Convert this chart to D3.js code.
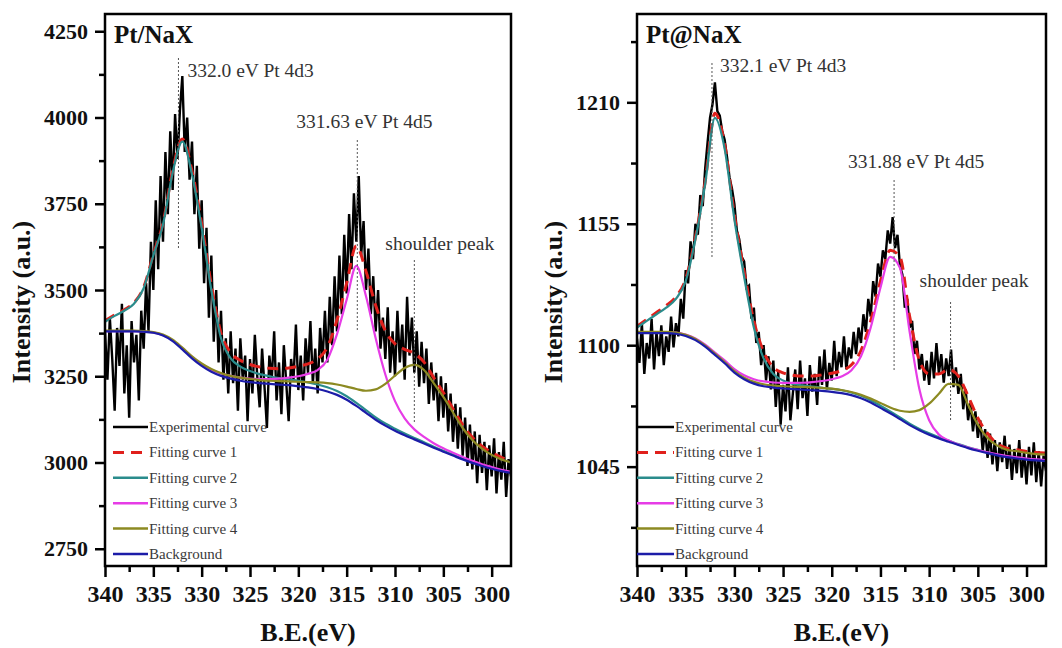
<!DOCTYPE html>
<html>
<head>
<meta charset="UTF-8">
<title>Pt 4d XPS fits</title>
<style>
    body { margin: 0; padding: 0; background: #fff; }
    svg { display: block; }
    text { font-family: "Liberation Serif", "Times New Roman", serif; }
</style>
</head>
<body>
<svg width="1062" height="648"></svg>
<script src="https://d3js.org/d3.v7.min.js"></script>
<script>
// binding energy grid of the fitted curves (1 eV) and of the measured spectra (0.25 eV)
var fitEV = d3.range(340, 297.5, -1);
var expEV = d3.range(340, 297.9, -0.25);

var xTicks = [340, 335, 330, 325, 320, 315, 310, 305, 300];
var xMinor = [337.5, 332.5, 327.5, 322.5, 317.5, 312.5, 307.5, 302.5];

var seriesNames = ["Experimental curve", "Fitting curve 1", "Fitting curve 2",
                   "Fitting curve 3", "Fitting curve 4", "Background"];

// ---- Pt/NaX ----
var naxTicks = [2750, 3000, 3250, 3500, 3750, 4000, 4250];
var naxMinor = [2875, 3125, 3375, 3625, 3875, 4125];
var naxPeaks = [["332.0 eV Pt 4d3", 332.4], ["331.63 eV Pt 4d5", 313.9], ["shoulder peak", 308.0]];

var naxBg = [3380, 3380, 3380, 3380, 3379, 3376, 3368, 3352, 3328, 3302, 3280, 3263, 3251, 3243,
    3237, 3233, 3230, 3228, 3226, 3224, 3221, 3218, 3213, 3206, 3196, 3182, 3164, 3144, 3124,
    3107, 3092, 3079, 3067, 3055, 3043, 3031, 3020, 3009, 2999, 2990, 2982, 2975, 2970];
var naxFit2 = [3408, 3425, 3440, 3460, 3505, 3600, 3690, 3840, 3930, 3835, 3680, 3500, 3360, 3302,
    3278, 3265, 3256, 3250, 3245, 3241, 3237, 3232, 3226, 3218, 3207, 3192, 3173, 3152, 3131,
    3113, 3098, 3084, 3071, 3059, 3046, 3034, 3023, 3011, 3001, 2992, 2984, 2977, 2971];
var naxFit3 = [3381, 3381, 3381, 3381, 3380, 3377, 3369, 3354, 3331, 3306, 3285, 3269, 3258, 3251,
    3246, 3243, 3242, 3242, 3243, 3246, 3250, 3257, 3268, 3298, 3372, 3472, 3570, 3482, 3360,
    3255, 3178, 3128, 3096, 3074, 3056, 3041, 3028, 3016, 3005, 2995, 2987, 2979, 2973];
var naxFit4 = [3382, 3382, 3382, 3382, 3381, 3378, 3371, 3356, 3333, 3308, 3287, 3271, 3259, 3251,
    3246, 3242, 3239, 3237, 3236, 3235, 3234, 3233, 3232, 3230, 3226, 3220, 3213, 3208, 3212,
    3228, 3252, 3274, 3283, 3268, 3230, 3190, 3145, 3100, 3065, 3040, 3022, 3009, 3000];
var naxFit1 = [3411, 3428, 3443, 3463, 3508, 3603, 3694, 3846, 3938, 3845, 3692, 3514, 3375, 3318,
    3296, 3284, 3277, 3273, 3272, 3274, 3279, 3286, 3300, 3334, 3413, 3520, 3628, 3554, 3455,
    3382, 3344, 3328, 3316, 3291, 3246, 3203, 3156, 3109, 3073, 3047, 3029, 3015, 3004];
var naxExp = [
    3380, 3240, 3420, 3300,  3150, 3390, 3280, 3460,  3200, 3340, 3130, 3410,  3290, 3370, 3180, 3440,
    3330, 3520, 3380, 3640,  3500, 3760, 3560, 3830,  3640, 3900, 3720, 3960,  3790, 4010, 3880, 4020,
    4120, 3900, 4000, 3820,  3930, 3720, 3860, 3620,  3760, 3520, 3680, 3420,  3600, 3350, 3500, 3290,
    3440, 3240, 3360, 3200,  3380, 3230, 3330, 3150,  3360, 3240, 3310, 3120,  3300, 3200, 3370, 3250,
    3160, 3330, 3220, 3100,  3310, 3240, 3380, 3180,  3290, 3140, 3340, 3230,  3120, 3300, 3240, 3400,
    3210, 3310, 3180, 3360,  3260, 3410, 3230, 3330,  3200, 3390, 3290, 3440,  3290, 3480, 3340, 3540,
    3380, 3600, 3430, 3660,  3490, 3720, 3560, 3780,  3640, 3830, 3600, 3700,  3500, 3620, 3430, 3540,
    3380, 3500, 3330, 3420,  3300, 3450, 3260, 3380,  3250, 3440, 3290, 3400,  3240, 3480, 3310, 3420,
    3260, 3380, 3220, 3350,  3230, 3330, 3170, 3290,  3180, 3260, 3120, 3250,  3130, 3230, 3090, 3200,
    3060, 3170, 3040, 3160,  3020, 3130, 2990, 3110,  2980, 3090, 2940, 3080,  2970, 3060, 2920, 3050,
    2960, 3070, 2910, 3030,  2950, 3060, 2900, 3010,  2960];

// ---- Pt@NaX ----
var atTicks = [1045, 1100, 1155, 1210];
var atMinor = [1017.5, 1072.5, 1127.5, 1182.5, 1237.5];
var atPeaks = [["332.1 eV Pt 4d3", 332.3], ["331.88 eV Pt 4d5", 313.6], ["shoulder peak", 307.8]];

var atBg = [1105.5, 1105.5, 1105.5, 1105.5, 1105.2, 1104.2, 1102.3, 1099.3, 1095.6, 1091.8, 1087.6,
    1084.6, 1082.6, 1081.4, 1080.8, 1080.4, 1080.1, 1079.9, 1079.6, 1079.3, 1078.9, 1078.3,
    1077.4, 1076.0, 1074.0, 1071.6, 1069.2, 1066.5, 1063.8, 1061.5, 1059.5, 1057.8, 1056.3,
    1054.8, 1053.4, 1052.2, 1051.1, 1050.1, 1049.3, 1048.7, 1048.2, 1047.8, 1047.5];
var atFit2 = [1108, 1111, 1114, 1117, 1121, 1129, 1148, 1173, 1203, 1189, 1157, 1131, 1108, 1094,
    1087, 1084, 1082.5, 1081.8, 1081.2, 1080.7, 1080.2, 1079.6, 1078.6, 1077.1, 1075.1, 1072.6,
    1070.0, 1067.3, 1064.5, 1062.1, 1060.1, 1058.3, 1056.8, 1055.2, 1053.8, 1052.6, 1051.4,
    1050.4, 1049.6, 1048.9, 1048.4, 1048.0, 1047.7];
var atFit3 = [1105.6, 1105.7, 1105.8, 1105.9, 1105.7, 1104.8, 1103.0, 1100.2, 1096.7, 1093.1, 1089.2,
    1086.4, 1084.6, 1083.6, 1083.1, 1082.9, 1082.9, 1083.0, 1083.3, 1083.8, 1084.6, 1085.8,
    1088.5, 1095.0, 1108.0, 1126.0, 1140.0, 1135.0, 1106.0, 1080.0, 1066.0, 1059.5, 1056.8,
    1055.0, 1053.6, 1052.5, 1051.5, 1050.6, 1049.8, 1049.2, 1048.7, 1048.3, 1048.0];
var atFit4 = [1106.0, 1106.0, 1106.0, 1106.0, 1105.7, 1104.7, 1102.8, 1099.8, 1096.2, 1092.4, 1088.3,
    1085.3, 1083.4, 1082.3, 1081.7, 1081.4, 1081.2, 1081.1, 1080.9, 1080.7, 1080.3, 1079.7,
    1078.8, 1077.5, 1075.8, 1073.8, 1071.8, 1070.3, 1069.8, 1070.6, 1073.5, 1078.0, 1082.5,
    1082.0, 1073.0, 1064.0, 1058.0, 1054.5, 1052.6, 1052.0, 1051.2, 1050.7, 1050.4];
var atFit1 = [1108.6, 1111.7, 1114.8, 1117.9, 1122, 1130, 1149, 1174, 1205, 1191, 1159, 1133.5, 1111,
    1097, 1090, 1087.5, 1086.4, 1086, 1086, 1086.6, 1087.3, 1088.5, 1091, 1097.6, 1111, 1129,
    1143, 1140, 1113, 1093, 1087, 1087, 1089, 1086, 1077, 1067, 1060, 1055.3, 1053.4, 1052.7,
    1051.9, 1051.4, 1051.1];
var atExp = [1103, 1092, 1110, 1087, 1101, 1094, 1112, 1089, 1106, 1095, 1109, 1091, 1104, 1097,
    1113, 1099, 1110, 1104, 1121, 1112, 1134, 1128, 1147, 1139, 1155, 1150, 1168, 1163, 1180,
    1192, 1203, 1209, 1219, 1206, 1204, 1197, 1193, 1185, 1176, 1171, 1164, 1152, 1148, 1140,
    1138, 1126, 1127, 1112, 1117, 1101, 1106, 1091, 1100, 1084, 1095, 1080, 1093, 1072, 1088,
    1064, 1082, 1070, 1090, 1066, 1078, 1089, 1071, 1093, 1076, 1085, 1068, 1091, 1079, 1087,
    1073, 1095, 1082, 1098, 1080, 1092, 1084, 1102, 1086, 1097, 1090, 1104, 1089, 1099, 1094,
    1106, 1096, 1108, 1101, 1114, 1106, 1121, 1113, 1129, 1122, 1137, 1131, 1143, 1139, 1152,
    1146, 1158, 1144, 1150, 1136, 1132, 1117, 1121, 1108, 1111, 1096, 1102, 1089, 1096, 1084,
    1093, 1082, 1097, 1085, 1101, 1087, 1096, 1083, 1094, 1086, 1098, 1081, 1090, 1078, 1087,
    1071, 1080, 1066, 1074, 1061, 1070, 1058, 1066, 1052, 1062, 1049, 1060, 1046, 1057, 1043,
    1056, 1047, 1059, 1044, 1055, 1039, 1053, 1042, 1057, 1040, 1052, 1037, 1054, 1041, 1056,
    1038, 1052, 1036, 1050, 1043];

var colors = ["#000000", "#e0201c", "#2a8c8c", "#e63ce6", "#8c8a22", "#1c1ca8"];
var serif = "Liberation Serif, Times New Roman, serif";

var panels = [
    { title: "Pt/NaX", left: 105, right: 511, yDomain: [2700, 4300], ticks: naxTicks, minor: naxMinor,
      exp: naxExp, fits: [naxFit1, naxFit2, naxFit3, naxFit4, naxBg], peaks: naxPeaks,
      // [text dx from line, text baseline, line top, line bottom]
      notes: [[9, 77, 58, 250], [-61, 128, 140, 332], [-29, 250, 260, 423]] },
    { title: "Pt@NaX", left: 637, right: 1046, yDomain: [1000, 1250], ticks: atTicks, minor: atMinor,
      exp: atExp, fits: [atFit1, atFit2, atFit3, atFit4, atBg], peaks: atPeaks,
      notes: [[8, 72, 63, 257], [-46, 168, 180, 372], [-31, 287, 302, 422]] }
];

var svg = d3.select("svg"),
    plotTop = 14, plotBottom = 566;

svg.append("rect").attr("width", 1062).attr("height", 648).attr("fill", "#fff");

panels.forEach(function (p, pi) {
    var x = d3.scaleLinear().domain([340, 298]).range([p.left, p.right]);
    var y = d3.scaleLinear().domain(p.yDomain).range([plotBottom, plotTop]);
    var g = svg.append("g");

    var clipId = "clip" + pi;
    g.append("clipPath").attr("id", clipId)
        .append("rect").attr("x", p.left).attr("y", plotTop)
        .attr("width", p.right - p.left).attr("height", plotBottom - plotTop);

    var plot = g.append("g").attr("clip-path", "url(#" + clipId + ")");

    // measured spectrum
    var expLine = d3.line()
        .x(function (d, i) { return x(expEV[i]); })
        .y(function (d) { return y(d); });
    plot.append("path").datum(p.exp)
        .attr("d", expLine).attr("fill", "none")
        .attr("stroke", colors[0]).attr("stroke-width", 2.4).attr("stroke-linejoin", "miter");

    // fitted curves in Origin order: envelope, curve 2, curve 3, curve 4, background
    var fitLine = d3.line()
        .x(function (d, i) { return x(fitEV[i]); })
        .y(function (d) { return y(d); })
        .curve(d3.curveMonotoneX);
    [0, 1, 2, 3, 4].forEach(function (k) {
        var path = plot.append("path").datum(p.fits[k])
            .attr("d", fitLine).attr("fill", "none")
            .attr("stroke", colors[k + 1])
            .attr("stroke-width", k == 0 ? 3 : 2.2);
        if (k == 0) path.attr("stroke-dasharray", "11,7");
    });

    // peak markers
    p.peaks.forEach(function (pk, j) {
        var n = p.notes[j], lx = x(pk[1]);
        g.append("line").attr("x1", lx).attr("x2", lx).attr("y1", n[2]).attr("y2", n[3])
            .attr("stroke", "#555").attr("stroke-width", 1).attr("stroke-dasharray", "2,2");
        g.append("text").attr("x", lx + n[0]).attr("y", n[1])
            .attr("font-family", serif).attr("font-size", 19.5).attr("fill", "#333").text(pk[0]);
    });

    // frame
    g.append("rect").attr("x", p.left).attr("y", plotTop)
        .attr("width", p.right - p.left).attr("height", plotBottom - plotTop)
        .attr("fill", "none").attr("stroke", "#000").attr("stroke-width", 2.5);

    // x axis (outward ticks)
    var xAxis = g.append("g").attr("transform", "translate(0," + plotBottom + ")");
    xAxis.call(d3.axisBottom(x).tickValues(xTicks).tickSize(11).tickPadding(8).tickFormat(d3.format("d")));
    xAxis.append("g").call(d3.axisBottom(x).tickValues(xMinor).tickSize(6).tickFormat(""));
    xAxis.selectAll(".domain").remove();
    xAxis.selectAll("line").attr("stroke", "#000").attr("stroke-width", 2.5);
    xAxis.selectAll("text").attr("font-size", 24).attr("font-weight", "bold")
        .attr("fill", "#111").attr("font-family", serif);

    // y axis
    var yAxis = g.append("g").attr("transform", "translate(" + p.left + ",0)");
    yAxis.call(d3.axisLeft(y).tickValues(p.ticks).tickSize(10).tickPadding(7).tickFormat(d3.format("d")));
    yAxis.append("g").call(d3.axisLeft(y).tickValues(p.minor).tickSize(6).tickFormat(""));
    yAxis.selectAll(".domain").remove();
    yAxis.selectAll("line").attr("stroke", "#000").attr("stroke-width", 2.5);
    yAxis.selectAll("text").attr("font-size", 22).attr("font-weight", "bold")
        .attr("fill", "#111").attr("font-family", serif);

    // axis titles
    g.append("text").attr("x", (p.left + p.right) / 2).attr("y", 641)
        .attr("text-anchor", "middle").attr("font-family", serif).attr("font-size", 26)
        .attr("font-weight", "bold").attr("fill", "#111").text("B.E.(eV)");
    g.append("text")
        .attr("transform", "translate(" + (p.left - 75) + "," + 302 + ")rotate(-90)")
        .attr("text-anchor", "middle").attr("font-family", serif).attr("font-size", 26)
        .attr("font-weight", "bold").attr("fill", "#111").text("Intensity (a.u.)");

    // panel title
    g.append("text").attr("x", p.left + 9).attr("y", 43).attr("font-family", serif)
        .attr("font-size", 25).attr("font-weight", "bold").attr("fill", "#111").text(p.title);

    // legend
    var leg = g.append("g");
    seriesNames.forEach(function (name, i) {
        var ly = 427 + i * 25.4;
        var x1 = pi == 0 ? p.left + 8 : p.left, x2 = p.left + (pi == 0 ? 43 : 37);
        var l = leg.append("line").attr("x1", x1).attr("x2", x2).attr("y1", ly).attr("y2", ly)
            .attr("stroke", colors[i]).attr("stroke-width", i == 1 ? 3 : 2.5);
        if (i == 1) l.attr("stroke-dasharray", "11,7");
        leg.append("text").attr("x", x2 + 1).attr("y", ly + 5).attr("font-family", serif)
            .attr("font-size", 15).attr("fill", "#3a3a3a").text(name);
    });
});
</script>
</body>
</html>
